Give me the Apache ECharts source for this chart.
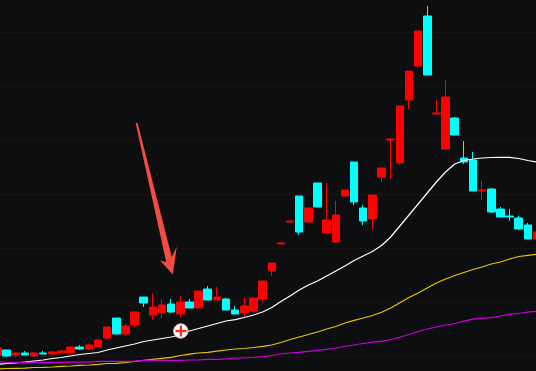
<!DOCTYPE html>
<html>
<head>
<meta charset="utf-8">
<style>html,body{margin:0;padding:0;background:#0d0e10}#c{width:536px;height:371px}</style>
<script src="https://cdn.jsdelivr.net/npm/echarts@6/dist/echarts.min.js"></script>
</head>
<body>
<div id="c"></div>
<script>
const opens  = [55,60,55,57,54,57,56,57,57,63,61,63,72,92,76,85,113,95,97,106,96,108,102,121,110,111,100,97,99,111,139,166,188,214,188,227,177,168,214,248,202,191,233,270,247,310,344,394,296,261,292,252,250,219,221,201,194,192,185,171];
const closes = [62,54,57,55,57,56,58,59,63,61,65,70,83,76,84,98,107,103,105,98,108,102,119,110,113,100,96,104,112,129,147,167,189,178,202,203,190,195,220,208,189,215,242,271,304,339,379,335,297,313,275,248,219,220,198,193,193,181,171,178];
const lows   = [55,53,53,55,53,56,55,57,57,60,60,63,70,76,74,83,103,91,92,97,93,102,102,110,110,100,96,93,97,108,134,166,188,175,188,203,177,167,214,205,185,180,228,231,245,301,342,335,296,261,275,246,219,210,197,193,189,180,171,171];
const highs  = [62,60,57,59,58,59,59,60,64,65,66,71,83,92,86,98,113,117,111,111,114,111,119,124,123,112,104,112,112,129,147,167,189,214,202,227,227,209,220,248,205,215,242,271,304,339,379,404,310,330,293,269,258,229,222,203,201,194,187,178];
const whiteLine = [45.5,46.5,47,48,49,50,51.5,52.5,54,55.5,56.5,57.5,60,62,64,66,68.5,70,71.5,73,75,79,81.5,84,86.5,89,90.3,92.5,95,98,102.5,108.5,114,120,125,129,134,139,144,149.5,154,158.5,164.5,173,184,195,206,217,228,238,246,249.5,251,252,252.5,252.7,252.7,251.5,249.5,248];
const yellowLine = [41,41.5,41.7,41.8,42.5,42.7,43,43.7,44,44.7,45,45.7,46.5,46.7,47.5,48.5,49.7,50.7,51.7,52.7,54.5,55.8,57,57.7,58.8,60,61,61.5,62.5,63.7,65,67.5,70.5,73,75.5,78,81,83.5,87,89.7,92,94.5,97.8,102,107.3,112.5,117,122,127,131,134.5,137.5,140.5,143,146,148,151,153.5,154.7,155.7];
const magentaLine = [48.5,47.7,47.7,47.7,47.7,47.7,47.7,47.7,47.8,47.8,47.8,48.7,48.7,48.7,48.7,48.8,49.7,49.7,49.7,49.7,49.7,50,50.2,50.7,50.7,51.2,52,52,52.5,53.3,54.5,56,57,57.7,58.7,59.7,60.7,62,63.5,65,66.5,67.8,68.6,70.5,72.7,75.5,78.5,81,83,85,86.5,88.8,90.8,91.6,92.3,94,95.8,96.5,97.8,98.7];
const categories = opens.map((_, i) => 'D' + (i + 1));
const candles = opens.map((o, i) => [o, closes[i], lows[i], highs[i]]);

const line = (name, data, color) => ({
  name, type: 'line', data, showSymbol: false, smooth: false, silent: true,
  lineStyle: { color, width: 1.2 }, z: 3
});

const chart = echarts.init(document.getElementById('c'), null, { renderer: 'canvas' });
chart.setOption({
  animation: false,
  backgroundColor: '#0d0e10',
  grid: { left: -7.2, width: 548.8, top: -22, height: 432, containLabel: false, outerBoundsMode: 'none' },
  xAxis: {
    type: 'category', data: categories, boundaryGap: true,
    axisLine: { show: false }, axisTick: { show: false }, axisLabel: { show: false }, splitLine: { show: false }
  },
  yAxis: {
    type: 'value', min: 0, max: 432, interval: 54,
    axisLine: { show: false }, axisTick: { show: false }, axisLabel: { show: false },
    splitLine: { show: true, lineStyle: { color: '#7a1010', width: 1, type: [1, 3] } }
  },
  series: [
    {
      name: 'K', type: 'candlestick', data: candles, barWidth: 8,
      itemStyle: { color: '#ff0000', color0: '#00ffff', borderColor: '#ff0000', borderColor0: '#00ffff', borderWidth: 1 },
      z: 2
    },
    line('MA1', whiteLine, '#ffffff'),
    line('MA2', yellowLine, '#e6c800'),
    line('MA3', magentaLine, '#cc00e0')
  ],
  graphic: [
    { type: 'polygon', z: 10, shape: { points: [[135.6,123],[137.6,123],[171.8,257],[176.8,246.5],[172.8,274.5],[160,260.5],[166.2,262]] }, style: { fill: '#f44c41' } },
    { type: 'circle', z: 10, shape: { cx: 180.8, cy: 331, r: 7.2 }, style: { fill: '#ffffff', stroke: '#c9c9c9', lineWidth: 1 } },
    { type: 'rect', z: 11, shape: { x: 175.5, y: 329.8, width: 11, height: 2.4 }, style: { fill: '#ff2a2a' } },
    { type: 'rect', z: 11, shape: { x: 179.7, y: 325.5, width: 2.4, height: 11 }, style: { fill: '#ff2a2a' } }
  ]
});
</script>
</body>
</html>
